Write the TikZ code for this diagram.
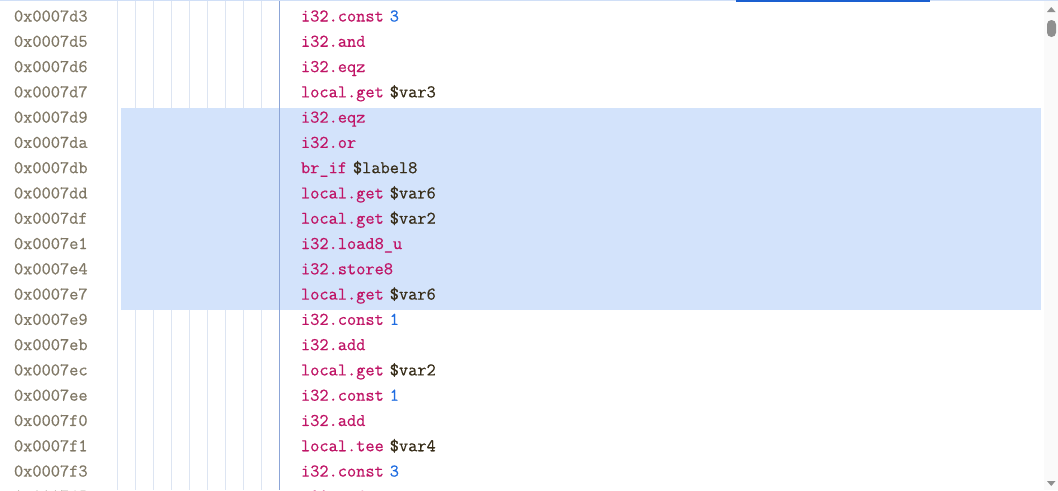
\documentclass[tikz,border=0pt]{standalone}
\usepackage{fontspec}
\usepackage{tikz}
\usetikzlibrary{positioning}

\newfontfamily\codefont{Latin Modern Mono}[FakeBold=0.5]

\definecolor{addrgray}{RGB}{128,120,102}
\definecolor{kwred}{RGB}{192,20,102}
\definecolor{numblue}{RGB}{30,108,225}
\definecolor{vardark}{RGB}{55,45,25}
\definecolor{hlblue}{RGB}{211,227,251}
\definecolor{guideblue}{RGB}{221,229,242}
\definecolor{ruleblue}{RGB}{140,165,215}
\definecolor{topblue}{RGB}{208,223,247}
\definecolor{barblue}{RGB}{26,95,208}
\definecolor{trackgray}{RGB}{250,250,250}
\definecolor{thumbgray}{RGB}{143,143,143}

\newcommand{\wkw}[1]{\textcolor{kwred}{#1}}
\newcommand{\wnum}[1]{\textcolor{numblue}{#1}}
\newcommand{\wvar}[1]{\textcolor{vardark}{#1}}

\tikzset{
  row/.style={inner sep=0pt, outer sep=0pt, text height=11.25pt, text depth=7.71pt,
    align=left, font=\fontsize{13.4}{15}\codefont},
  addr/.style={row, text width=62pt, text=addrgray},
  instr/.style={row, text width=225pt},
  guide/.style={guideblue, line width=0.75pt},
}

\begin{document}
\begin{tikzpicture}[x=0.75pt, y=-0.75pt, node distance=0pt]
    \useasboundingbox (0,0) rectangle (1058,490);
    \clip (0,0) rectangle (1058,490);
    \fill[white] (0,0) rectangle (1058,490);

    % indent guides
    \draw[guide] (117.5,0) -- (117.5,490);
    \foreach \gx in {135.5,153.5,...,261.5}
        \draw[guide] (\gx,0) -- (\gx,490);

    % selected lines
    \fill[hlblue] (121,108) rectangle (1041,310);
    \draw[ruleblue, line width=0.75pt] (279.5,0) -- (279.5,490);

    % Define nodes
    \node[addr, anchor=north west]	(a0)	at (14,6.5)	{0x0007d3};
    \node[addr, below = of a0]		(a1)	{0x0007d5};
    \node[addr, below = of a1]		(a2)	{0x0007d6};
    \node[addr, below = of a2]		(a3)	{0x0007d7};
    \node[addr, below = of a3]		(a4)	{0x0007d9};
    \node[addr, below = of a4]		(a5)	{0x0007da};
    \node[addr, below = of a5]		(a6)	{0x0007db};
    \node[addr, below = of a6]		(a7)	{0x0007dd};
    \node[addr, below = of a7]		(a8)	{0x0007df};
    \node[addr, below = of a8]		(a9)	{0x0007e1};
    \node[addr, below = of a9]		(a10)	{0x0007e4};
    \node[addr, below = of a10]		(a11)	{0x0007e7};
    \node[addr, below = of a11]		(a12)	{0x0007e9};
    \node[addr, below = of a12]		(a13)	{0x0007eb};
    \node[addr, below = of a13]		(a14)	{0x0007ec};
    \node[addr, below = of a14]		(a15)	{0x0007ee};
    \node[addr, below = of a15]		(a16)	{0x0007f0};
    \node[addr, below = of a16]		(a17)	{0x0007f1};
    \node[addr, below = of a17]		(a18)	{0x0007f3};
    \node[addr, below = of a18]		(a19)	{0x0007f5};

    \node[instr, anchor=north west]	(c0)	at (301,6.5)	{\wkw{i32.const} \wnum{3}};
    \node[instr, below = of c0]		(c1)	{\wkw{i32.and}};
    \node[instr, below = of c1]		(c2)	{\wkw{i32.eqz}};
    \node[instr, below = of c2]		(c3)	{\wkw{local.get} \wvar{\$var3}};
    \node[instr, below = of c3]		(c4)	{\wkw{i32.eqz}};
    \node[instr, below = of c4]		(c5)	{\wkw{i32.or}};
    \node[instr, below = of c5]		(c6)	{\wkw{br\_if} \wvar{\$label8}};
    \node[instr, below = of c6]		(c7)	{\wkw{local.get} \wvar{\$var6}};
    \node[instr, below = of c7]		(c8)	{\wkw{local.get} \wvar{\$var2}};
    \node[instr, below = of c8]		(c9)	{\wkw{i32.load8\_u}};
    \node[instr, below = of c9]		(c10)	{\wkw{i32.store8}};
    \node[instr, below = of c10]	(c11)	{\wkw{local.get} \wvar{\$var6}};
    \node[instr, below = of c11]	(c12)	{\wkw{i32.const} \wnum{1}};
    \node[instr, below = of c12]	(c13)	{\wkw{i32.add}};
    \node[instr, below = of c13]	(c14)	{\wkw{local.get} \wvar{\$var2}};
    \node[instr, below = of c14]	(c15)	{\wkw{i32.const} \wnum{1}};
    \node[instr, below = of c15]	(c16)	{\wkw{i32.add}};
    \node[instr, below = of c16]	(c17)	{\wkw{local.tee} \wvar{\$var4}};
    \node[instr, below = of c17]	(c18)	{\wkw{i32.const} \wnum{3}};
    \node[instr, below = of c18]	(c19)	{\wkw{i32.and}};

    % top edge
    \fill[topblue] (0,0) rectangle (1058,1.2);
    \fill[barblue] (736,0) rectangle (930,2.2);

    % scrollbar
    \fill[trackgray] (1044,0) rectangle (1058,490);
    \fill[topblue] (1044,0) rectangle (1058,1.2);
    \fill[thumbgray] (1047,12) -- (1055.5,12) -- (1051.25,7) -- cycle;
    \fill[thumbgray, rounded corners=3.3pt] (1047,20) rectangle (1056,37);
    \fill[thumbgray] (1047,481) -- (1055.5,481) -- (1051.25,486) -- cycle;
\end{tikzpicture}
\end{document}
